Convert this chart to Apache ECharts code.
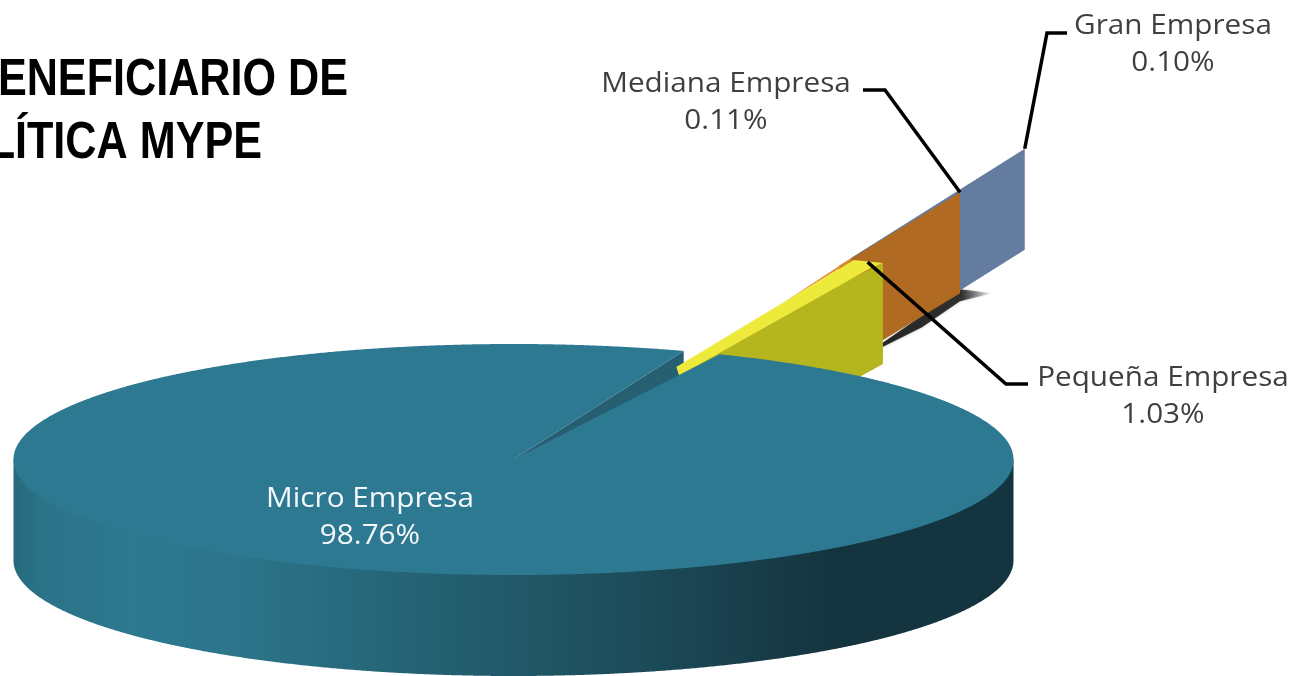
<!DOCTYPE html>
<html>
<head>
<meta charset="utf-8">
<style>
  html, body { margin: 0; padding: 0; background: #fff; overflow: hidden; }
  #chart_pie { width: 1292px; height: 676px; }
</style>
<script src="https://cdn.jsdelivr.net/npm/echarts@6/dist/echarts.min.js"></script>
</head>
<body>
<div id="chart_pie"></div>
<script>
var categories = ['Micro Empresa', 'Pequeña Empresa', 'Mediana Empresa', 'Gran Empresa'];
var shares = [98.76, 1.03, 0.11, 0.10];
var titleLines = ['ENEFICIARIO DE', 'LÍTICA MYPE'];

var fontsty = 'Open Sans';
var cx = 513.5, cy = 459.5, rx = 500, ry = 115.5, depth = 101;
var startAngle = 70.1;

// start angle of every slice, counter clockwise, from the shares
var angles = [];
var total = shares.reduce(function (a, b) { return a + b; }, 0);
var acc = startAngle;
shares.forEach(function (v) {
  var sweep = v / total * 360;
  angles.push({ from: acc, sweep: sweep, to: acc + sweep });
  acc += sweep;
});

function project(r, deg, z) {
  var t = deg * Math.PI / 180;
  return [cx + rx * r * Math.cos(t), cy - ry * r * Math.sin(t) + (z || 0)];
}
function arc(from, to, r, z) {
  var pts = [], n = Math.ceil(Math.abs(to - from) * 4);
  for (var i = 0; i <= n; i++) {
    pts.push(project(r, from + (to - from) * i / n, z));
  }
  return pts;
}
function poly(points, fill, z2) {
  return { type: 'polygon', shape: { points: points }, style: { fill: fill }, z2: z2, silent: true };
}
function wall(r1, t1, r2, t2, fill, z2) {
  return poly([project(r1, t1), project(r2, t2), project(r2, t2, depth), project(r1, t1, depth)], fill, z2);
}
function leader(points) {
  return { type: 'polyline', shape: { points: points }, style: { stroke: '#000', lineWidth: 3.5, fill: 'none' }, z2: 9, silent: true };
}
function label(i, x, y, color) {
  return {
    type: 'text', z2: 10, silent: true, x: x, y: y, scaleX: 1.1,
    style: {
      text: categories[i] + '\n' + shares[i].toFixed(2) + '%',
      x: 0, y: 0, fill: color, align: 'center', verticalAlign: 'top',
      font: '27px "' + fontsty + '"', lineHeight: 37
    }
  };
}

var rimFill = {
  type: 'linear', x: 14, y: 0, x2: 1013, y2: 0, global: true,
  colorStops: [
    { offset: 0, color: '#26697d' },
    { offset: 0.03, color: '#2b7388' },
    { offset: 0.12, color: '#2d7990' },
    { offset: 0.22, color: '#2c758b' },
    { offset: 0.42, color: '#246172' },
    { offset: 0.62, color: '#1d4c5a' },
    { offset: 0.82, color: '#14343f' },
    { offset: 1, color: '#14343f' }
  ]
};

function drawMicro(a) {
  var top = [[cx, cy]].concat(arc(a.from, a.to, 1));
  var rim = [project(1, 180)].concat(arc(180, 360, 1, depth), [project(1, 360)]);
  return [
    poly(rim, rimFill, 1),
    poly([[cx, cy], project(1, a.from), project(1, a.from, depth), [cx, cy + depth]], '#265f72', 5),
    poly(top, '#2d7991', 7),
    label(0, 370, 481, '#f4f8fa')
  ];
}
function drawPequena(a) {
  // angle of the band follows the sweep of the slice
  var s = a.sweep, f = a.from;
  var t1 = f - 0.1, t2 = f + 0.24 * s;
  // olive face runs a little under the bright strip so no seam shows
  var olive = poly([project(0.8, t1, -3), project(1.6, f + 0.2 * s, -3), project(1.855, t2), project(1.855, t2, depth), project(0.8, t1, depth)], '#b5b51e', 6);
  return [
    olive,
    poly([project(0.8, t1), project(0.864, f + 0.6 * s), project(1.856, f + 0.77 * s), project(1.855, t2), project(1.805, f + 0.28 * s)], '#eeea3c', 6.5),
    leader([project(1.85, f + 0.5 * s), [1006, 384], [1028, 384]]),
    label(1, 1163, 360, '#3f3f3f')
  ];
}
function drawMediana(a) {
  var t = a.from - 0.55;
  var corner = project(2.48, t + 0.1, depth);
  var shadowFill = {
    type: 'linear', x: corner[0] - 70, y: 0, x2: corner[0] + 32, y2: 0, global: true,
    colorStops: [
      { offset: 0, color: 'rgba(0,0,0,0.8)' },
      { offset: 0.7, color: 'rgba(0,0,0,0.75)' },
      { offset: 1, color: 'rgba(0,0,0,0)' }
    ]
  };
  var shadow = poly([[corner[0] - 78, corner[1] + 50], [corner[0], corner[1] - 4], [corner[0] + 32, corner[1]], [corner[0], corner[1] + 8], [corner[0] - 38, corner[1] + 34], [corner[0] - 78, corner[1] + 54]], shadowFill, 2);
  shadow.style.shadowBlur = 3;
  shadow.style.shadowColor = 'rgba(0,0,0,0.35)';
  return [
    shadow,
    wall(1.8, t, 2.48, t + 0.1, '#b06a22', 4),
    // thin lit edge that tapers away along the yellow slice
    poly([project(1.47, t, 4), project(1.87, t + 0.02), project(1.87, t + 0.02, 3)], '#e08a30', 4.5),
    leader([project(2.48, t + 0.1), [885, 90], [863, 90]]),
    label(2, 726, 66, '#3f3f3f')
  ];
}
function drawGran(a) {
  var t = a.from - 0.9;
  return [
    wall(1.87, t, 2.878, t + 0.35, '#637c9f', 3),
    leader([project(2.878, t + 0.35), [1047, 33], [1067, 33]]),
    label(3, 1173, 8, '#3f3f3f')
  ];
}
var drawers = [drawMicro, drawPequena, drawMediana, drawGran];

var chart = echarts.init(document.getElementById('chart_pie'), null, { renderer: 'canvas' });
var option = {
  animation: false,
  backgroundColor: '#fff',
  graphic: [
    {
      type: 'text', x: 348, y: 55, scaleX: 0.83, silent: true,
      style: { text: titleLines[0], align: 'right', verticalAlign: 'top', fill: '#000', font: 'bold 52px "Liberation Sans"' }
    },
    {
      type: 'text', x: 262, y: 118, scaleX: 0.83, silent: true,
      style: { text: titleLines[1], align: 'right', verticalAlign: 'top', fill: '#000', font: 'bold 52px "Liberation Sans"' }
    }
  ],
  series: [{
    type: 'custom',
    coordinateSystem: 'none',
    silent: true,
    data: shares.map(function (v, i) { return [i, v]; }),
    renderItem: function (params, api) {
      var i = api.value(0);
      return { type: 'group', children: drawers[i](angles[i]) };
    }
  }]
};
chart.setOption(option);
</script>
</body>
</html>
